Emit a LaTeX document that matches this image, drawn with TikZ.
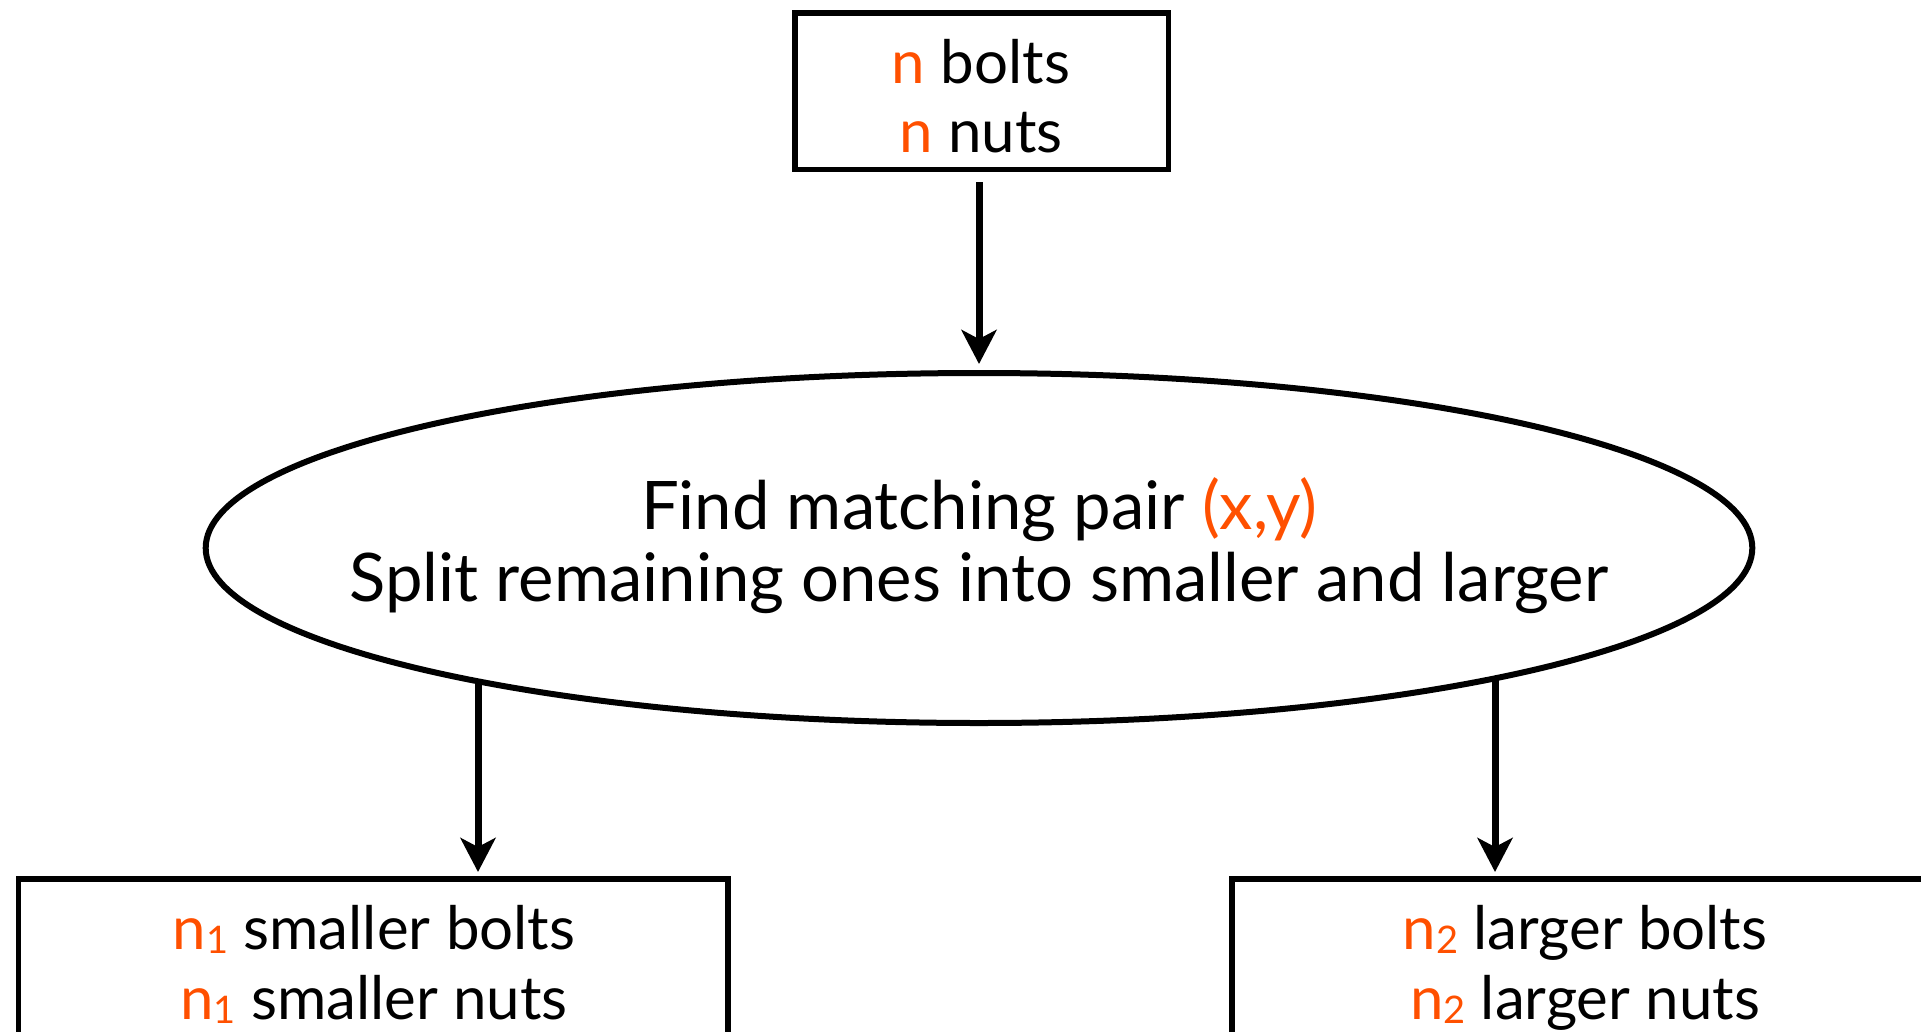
\documentclass[tikz,border=0pt]{standalone}
\usepackage{fontspec}
\setmainfont{Lato}
\usetikzlibrary{arrows.meta,shapes.geometric}
\definecolor{hl}{RGB}{255,80,0}
\newcommand{\hn}[1]{\textcolor{hl}{#1}}
\newcommand{\hsub}[1]{\textcolor{hl}{n\raisebox{-0.07em}{\fontsize{38}{38}\selectfont #1}}}
\begin{document}
\begin{tikzpicture}[x=1pt,y=-1pt,
  box/.style={draw, line width=5.5pt, inner sep=0pt, minimum height=156.5pt},
  ellbox/.style={draw, ellipse, line width=6pt, inner sep=0pt, minimum width=1546.6pt, minimum height=350pt},
  txt/.style={anchor=base, inner sep=0pt, font=\fontsize{67}{80}\selectfont},
  btxt/.style={anchor=base, inner sep=0pt, font=\fontsize{60}{72}\selectfont},
  arr/.style={-{Stealth[length=34pt,width=35pt,inset=9pt]}, line width=7pt}]
\useasboundingbox (0,0) rectangle (1921,1031);
\clip (0,0) rectangle (1921,1031);
% shapes
\node[box, minimum width=373.5pt] (top) at (981.5,91) {};
\node[ellbox] (ell) at (979,548) {};
\node[box, minimum width=709.5pt] (b1) at (373.3,957) {};
\node[box, minimum width=706pt] (b2) at (1585,957) {};
% texts
\node[btxt] (t1) at (981,83) {\hn{n} bolts};
\node[btxt] (t2) at (981,152) {\hn{n} nuts};
\node[txt] (e1) at (979,529) {Find matching pair \hn{(x,y)}};
\node[txt] (e2) at (979,601) {Split remaining ones into smaller and larger};
\node[btxt] (l1) at (374,949) {\hsub{1} smaller bolts};
\node[btxt] (l2) at (374,1019) {\hsub{1} smaller nuts};
\node[btxt] (r1) at (1585,949) {\hsub{2} larger bolts};
\node[btxt] (r2) at (1585,1019) {\hsub{2} larger nuts};
% connectors
\coordinate (s1) at (478,681.3);
\coordinate (s2) at (1495,678.3);
\draw[arr, shorten <=10pt, shorten >=6pt] (top.south -| ell.north) -- (ell.north);
\draw[arr, shorten >=4pt] (s1) -- (s1 |- b1.north);
\draw[arr, shorten >=4pt] (s2) -- (s2 |- b2.north);
\end{tikzpicture}
\end{document}
